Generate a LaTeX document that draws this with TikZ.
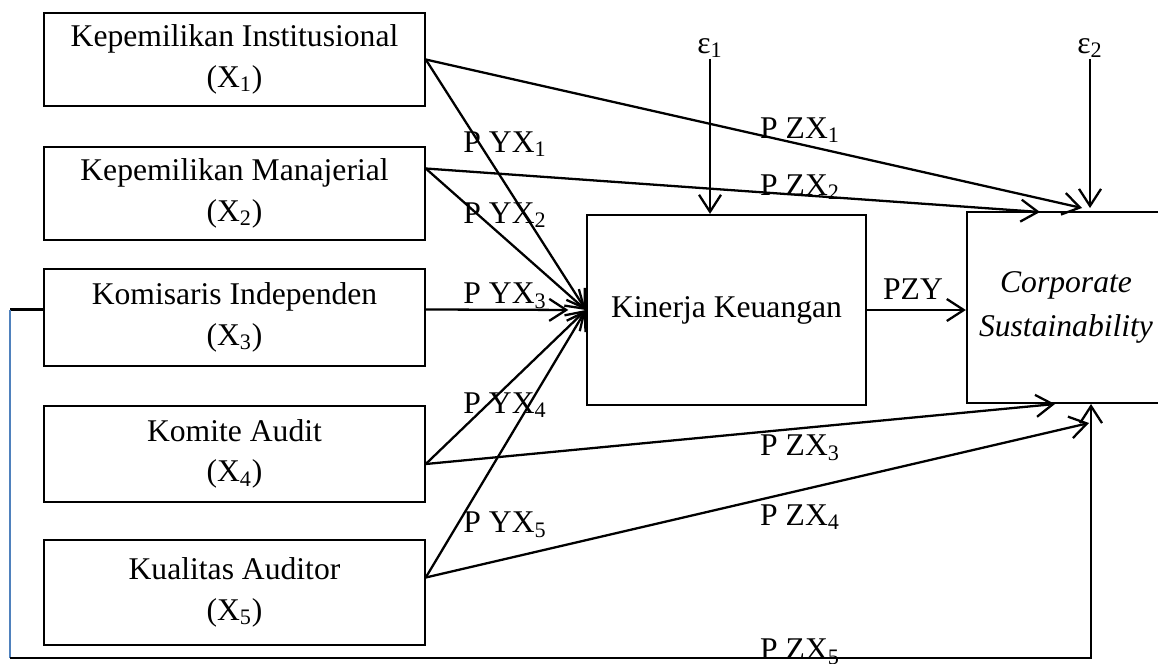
\documentclass[tikz,border=0pt]{standalone}
\usepackage{fontspec}
\setmainfont{Liberation Serif}
\usetikzlibrary{arrows.meta,calc}
\definecolor{loopblue}{HTML}{4F81BD}

\begin{document}
\begin{tikzpicture}[x=0.02cm, y=-0.02cm, line width=1.3pt,
    >={Straight Barb[length=3.4mm,width=4.4mm]},
    box/.style={draw, line width=0.9pt, minimum width=7.62cm, minimum height=1.86cm, align=center, font=\fontsize{18}{23}\selectfont},
    bigbox/.style={draw, line width=1.3pt, align=center, font=\fontsize{18}{25.5}\selectfont},
    lbl/.style={inner sep=0pt, font=\fontsize{18}{22}\selectfont}]
    \useasboundingbox (0,0) rectangle (1158,663);
    \clip (0,0) rectangle (1158,663);
    \node[box] (x1) at (234.5,59.5) {Kepemilikan Institusional\\(X\textsubscript{1})};
    \node[box] (x2) at (234.5,193.5) {Kepemilikan Manajerial\\(X\textsubscript{2})};
    \node[box, minimum height=1.94cm] (x3) at (234.5,317.5) {Komisaris Independen\\(X\textsubscript{3})};
    \node[box, minimum height=1.92cm] (x4) at (234.5,454) {Komite Audit\\(X\textsubscript{4})};
    \node[box, minimum height=2.1cm] (x5) at (234.5,592.5) {Kualitas Auditor\\(X\textsubscript{5})};
    \node[bigbox, minimum width=5.58cm, minimum height=3.8cm] (kk) at (726.5,310) {Kinerja Keuangan};
    \node[bigbox, minimum width=3.96cm, minimum height=3.82cm] (cs) at (1066,307.5) {\itshape Corporate\\\itshape Sustainability};
    \node[lbl] (e1) at (710,48) {ε\textsubscript{1}};
    \node[lbl] (e2) at (1090,48) {ε\textsubscript{2}};
    \coordinate (z1) at (1082,208);
    \coordinate (z2) at (1040,212);
    \coordinate (z3) at (1055,404);
    \coordinate (z4) at (1089,423);
    \coordinate (z5) at (1091,404);
    \coordinate (la) at (10,309.5);
    \coordinate (lb) at (10,658);
    \draw [->] (e1) -- (e1 |- kk.north);
    \draw [->] (e2) -- (e2 |- z1);
    \draw [->] (x1.east) -- (kk.west);
    \draw [->] (x1.east) -- (z1);
    \draw [->] ($(x2.east)+(0,-25)$) -- (kk.west);
    \draw [->] ($(x2.east)+(0,-25)$) -- (z2);
    \draw [->, shorten >=10pt] ($(x3.east)+(0,-8)$) -- (kk.west);
    \draw [->] ($(x4.east)+(0,10)$) -- (kk.west);
    \draw [->] ($(x4.east)+(0,10)$) -- (z3);
    \draw [->] ($(x5.east)+(0,-15)$) -- (kk.west);
    \draw [->] ($(x5.east)+(0,-15)$) -- (z4);
    \draw [->] (kk.east) -- (cs.west |- kk.east);
    \draw ($(x3.west)+(0,-8)$) -- (la);
    \draw [color=loopblue, line width=1pt] (la) -- (lb);
    \draw [->] (lb) -- (lb -| z5) -- (z5);
    \node[lbl] (pyx1) at (505,144) {P YX\textsubscript{1}};
    \node[lbl] (pyx2) at (505,215) {P YX\textsubscript{2}};
    \node[lbl] (pyx3) at (505,296) {P YX\textsubscript{3}};
    \node[lbl] (pyx4) at (505,405) {P YX\textsubscript{4}};
    \node[lbl] (pyx5) at (505,525) {P YX\textsubscript{5}};
    \node[lbl] (pzx1) at (800,130) {P ZX\textsubscript{1}};
    \node[lbl] (pzx2) at (800,187) {P ZX\textsubscript{2}};
    \node[lbl] (pzy) at (913,289) {PZY};
    \node[lbl] (pzx3) at (800,448) {P ZX\textsubscript{3}};
    \node[lbl] (pzx4) at (800,517) {P ZX\textsubscript{4}};
    \node[lbl] (pzx5) at (800,652) {P ZX\textsubscript{5}};
\end{tikzpicture}
\end{document}
